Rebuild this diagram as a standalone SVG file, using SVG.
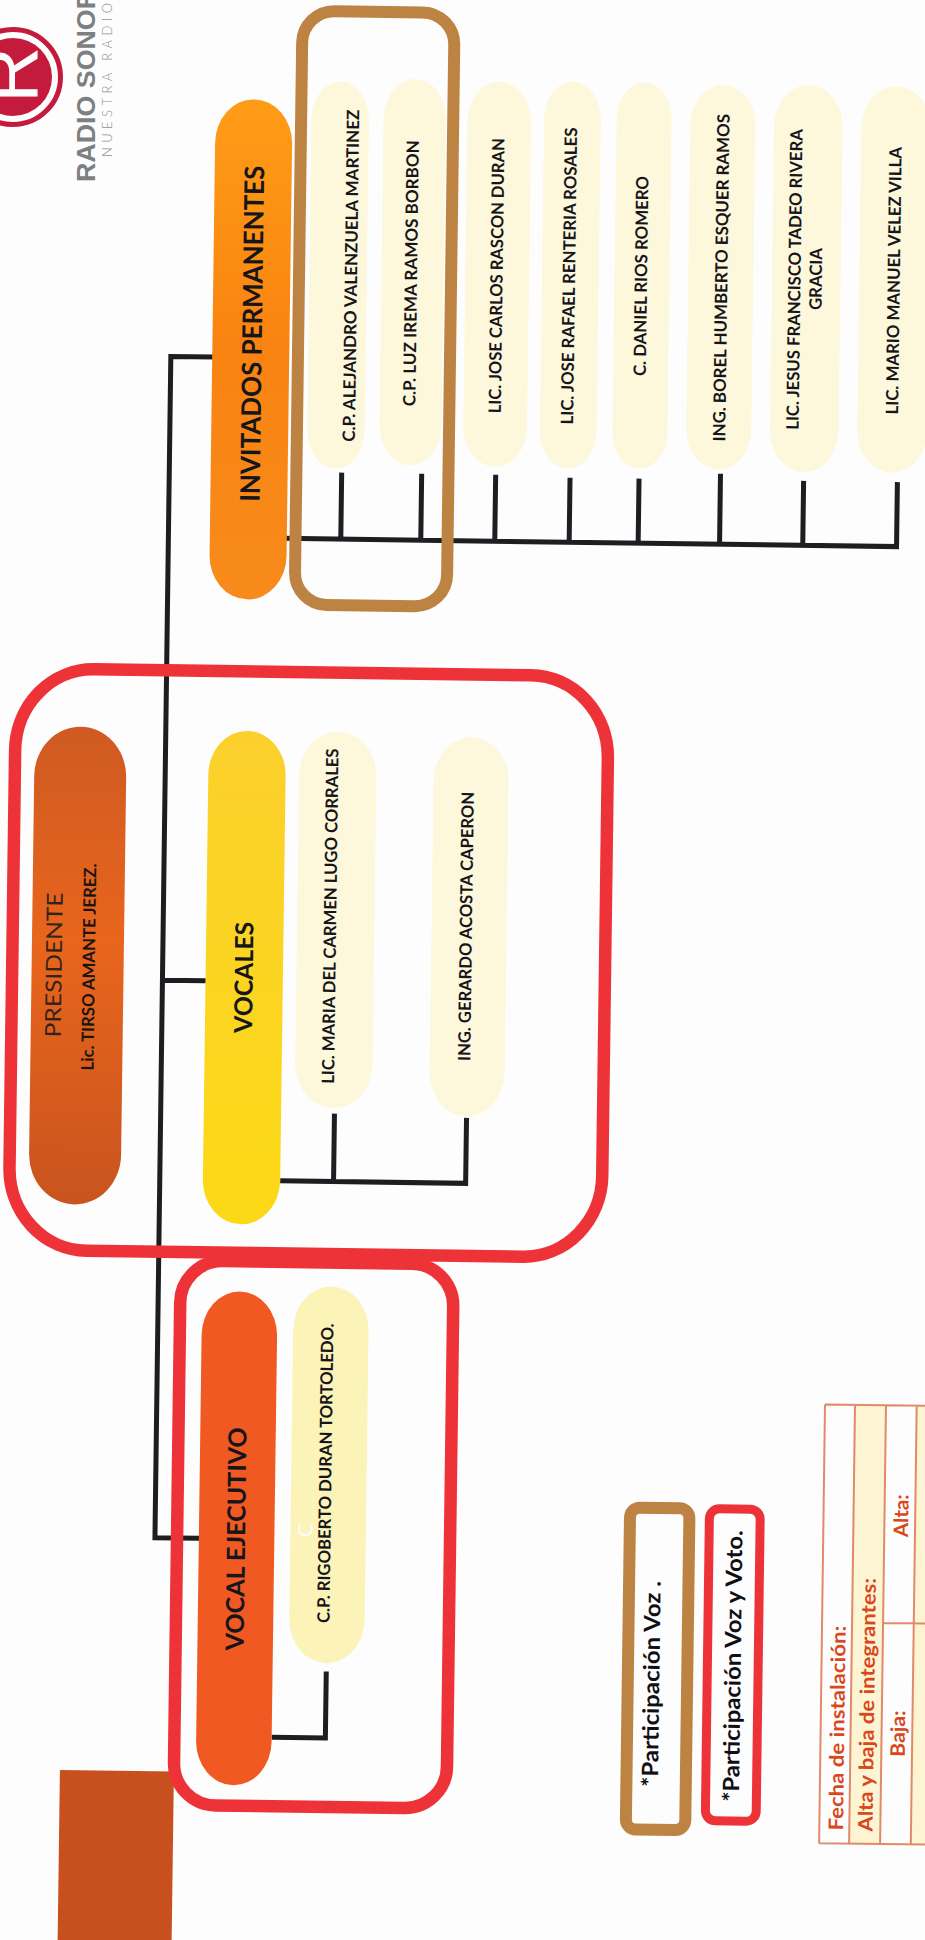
<svg xmlns="http://www.w3.org/2000/svg" width="925" height="1940" viewBox="0 0 925 1940">
<defs>
<linearGradient id="gOrange" x1="0" y1="0" x2="0" y2="1"><stop offset="0" stop-color="#ff9c16"/><stop offset=".5" stop-color="#f98311"/><stop offset="1" stop-color="#f78b1c"/></linearGradient>
<linearGradient id="gPres" x1="0" y1="0" x2="0" y2="1"><stop offset="0" stop-color="#cf5a22"/><stop offset=".45" stop-color="#e8651c"/><stop offset="1" stop-color="#c9541f"/></linearGradient>
<linearGradient id="gVoc" x1="0" y1="0" x2="0" y2="1"><stop offset="0" stop-color="#fbd02c"/><stop offset="1" stop-color="#fcd916"/></linearGradient>
</defs>
<style>
text{font-family:Lato,"Open Sans","Liberation Sans",sans-serif;text-anchor:middle}
.n{font-weight:700;font-size:17px;fill:#15151a}
.h{font-weight:700;font-size:27px;fill:#15151a}
.l{font-weight:700;font-size:22.5px;fill:#101014}
.t{font-weight:700;font-size:20px;fill:#d9481c}
.c{fill:#fdf7dc}
.w{fill:none;stroke:#1d1d22;stroke-width:5}
.rf{fill:none;stroke:#ee3338;stroke-width:12.5}
.bf{fill:none;stroke:#bd8342;stroke-width:12}
.tb{fill:none;stroke:#e08a68;stroke-width:2}
</style>
<rect width="925" height="1940" fill="#fdfdfe"/>
<g id="logo">
<circle cx="13" cy="77" r="47.5" fill="none" stroke="#c41a3c" stroke-width="5"/>
<circle cx="13" cy="77" r="39" fill="#c41a3c"/>
<text transform="translate(37,103) rotate(-90)" style="text-anchor:start;font-family:'Liberation Sans',sans-serif;font-weight:400;font-size:78px;fill:#fdfdfe">R</text>
<text transform="translate(94.5,182) rotate(-90)" textLength="192" lengthAdjust="spacingAndGlyphs" style="text-anchor:start;font-family:'Liberation Sans',sans-serif;font-weight:700;font-size:26px;fill:#7d7f80">RADIO SONOR</text>
<text transform="translate(112,157) rotate(-90)" textLength="154" lengthAdjust="spacing" style="text-anchor:start;font-family:Lato,sans-serif;font-weight:300;font-size:13px;fill:#8f9192">NUESTRA RADIO</text>
</g>
<g transform="rotate(0.77)">
<rect x="83.7" y="1769" width="114" height="180" fill="#c8501e"/>
<g id="connectors">
<path class="w" d="M219,354.2H175.6V1535.5H220M175.6,978H219"/>
<path class="w" d="M290,534.5H903.8V470M348,534.5V468M428,534.5V468M502,534.5V468M576.4,534.5V470M645.4,534.5V470M726.8,534.5V464M810,534.5V470"/>
<path class="w" d="M296,1177H481.5V1111.5M349.4,1177V1109"/>
<path class="w" d="M295,1733.5H348.7V1667"/>
</g>
<g id="invitados"><rect x="217" y="96" width="77" height="500" rx="38" ry="44" fill="url(#gOrange)"/><text class="h" transform="translate(266.3,330.3) rotate(-90)" textLength="336" lengthAdjust="spacingAndGlyphs">INVITADOS PERMANENTES</text></g>
<g id="inv1"><rect class="c" x="313" y="77" width="57.4" height="387" rx="28.7" ry="38"/><text class="n" transform="translate(360.7,271) rotate(-90)" textLength="332" lengthAdjust="spacingAndGlyphs">C.P. ALEJANDRO VALENZUELA MARTINEZ</text></g>
<g id="inv2"><rect class="c" x="385.2" y="73.3" width="62" height="386.5" rx="31" ry="40"/><text class="n" transform="translate(420.7,267.6) rotate(-90)" textLength="266" lengthAdjust="spacingAndGlyphs">C.P. LUZ IREMA RAMOS BORBON</text></g>
<g id="inv3"><rect class="c" x="469" y="75" width="63.7" height="385" rx="31.8" ry="40"/><text class="n" transform="translate(506.3,269) rotate(-90)" textLength="275" lengthAdjust="spacingAndGlyphs">LIC. JOSE CARLOS RASCON DURAN</text></g>
<g id="inv4"><rect class="c" x="545.7" y="74" width="56.6" height="387" rx="28.3" ry="38"/><text class="n" transform="translate(578.7,268.3) rotate(-90)" textLength="297" lengthAdjust="spacingAndGlyphs">LIC. JOSE RAFAEL RENTERIA ROSALES</text></g>
<g id="inv5"><rect class="c" x="618.2" y="74.2" width="54.9" height="385.7" rx="27.4" ry="36"/><text class="n" transform="translate(650.7,267.3) rotate(-90)" textLength="200" lengthAdjust="spacingAndGlyphs">C. DANIEL RIOS ROMERO</text></g>
<g id="inv6"><rect class="c" x="692" y="75.3" width="64.9" height="384.3" rx="32.4" ry="40"/><text class="n" transform="translate(731,268) rotate(-90)" textLength="327.5" lengthAdjust="spacingAndGlyphs">ING. BOREL HUMBERTO ESQUER RAMOS</text></g>
<g id="inv7"><rect class="c" x="775.7" y="74.1" width="68.5" height="387" rx="34" ry="42"/><text class="n" transform="translate(804.2,268.7) rotate(-90)" textLength="300.6" lengthAdjust="spacingAndGlyphs">LIC. JESUS FRANCISCO TADEO RIVERA</text><text class="n" transform="translate(825.5,268) rotate(-90)" textLength="62" lengthAdjust="spacingAndGlyphs">GRACIA</text></g>
<g id="inv8"><rect class="c" x="863" y="74.2" width="70" height="386.4" rx="35" ry="42"/><text class="n" transform="translate(903.5,268.7) rotate(-90)" textLength="267.4" lengthAdjust="spacingAndGlyphs">LIC. MARIO MANUEL VELEZ VILLA</text></g>
<g id="presidente"><rect x="44.6" y="725.6" width="92" height="477.7" rx="46" ry="50" fill="url(#gPres)"/><text transform="translate(74.6,964) rotate(-90)" textLength="145" lengthAdjust="spacingAndGlyphs" style="font-size:22px;fill:#33231a;font-weight:400">PRESIDENTE</text><text transform="translate(107.8,965.7) rotate(-90)" textLength="207" lengthAdjust="spacingAndGlyphs" style="font-size:17px;font-weight:700;fill:#1c1410">Lic. TIRSO AMANTE JEREZ.</text></g>
<g id="vocales"><rect x="218.7" y="727.5" width="77.3" height="493.5" rx="38.6" ry="44" fill="url(#gVoc)"/><text class="h" transform="translate(265.8,974) rotate(-90)" textLength="111" lengthAdjust="spacingAndGlyphs" style="font-size:25px">VOCALES</text></g>
<g id="voc1"><rect class="c" x="309.5" y="727.2" width="77.3" height="376.4" rx="38.6" ry="44"/><text class="n" transform="translate(348.5,911.6) rotate(-90)" textLength="335.4" lengthAdjust="spacingAndGlyphs">LIC. MARIA DEL CARMEN LUGO CORRALES</text></g>
<g id="voc2"><rect class="c" x="444" y="730.7" width="75" height="379.3" rx="37.5" ry="44"/><text class="n" transform="translate(484.4,920) rotate(-90)" textLength="269" lengthAdjust="spacingAndGlyphs">ING. GERARDO ACOSTA CAPERON</text></g>
<g id="vocal-ejecutivo"><rect x="219.5" y="1288.2" width="75.5" height="493.7" rx="37.7" ry="44" fill="#f05a22"/><text class="h" transform="translate(265.6,1535.5) rotate(-90)" textLength="223" lengthAdjust="spacingAndGlyphs" style="font-size:25px">VOCAL EJECUTIVO</text></g>
<g id="ejec1"><rect x="311" y="1281.9" width="75.4" height="376.7" rx="37.7" ry="44" fill="#fbf3b8"/><text class="n" transform="translate(351.2,1468.7) rotate(-90)" textLength="299.7" lengthAdjust="spacingAndGlyphs">C.P. RIGOBERTO DURAN TORTOLEDO.</text><text transform="translate(333.2,1526) rotate(-90)" style="font-size:20px;fill:#fdfdfe;font-weight:400">C</text></g>
<g id="frame-voz"><rect class="bf" x="302.7" y="6.7" width="152.1" height="593.8" rx="32"/></g>
<g id="frame-voto-1"><rect class="rf" x="25.2" y="668" width="592.8" height="581.5" rx="78" ry="82"/></g>
<g id="frame-voto-2"><rect class="rf" x="197.7" y="1258" width="273" height="544.4" rx="42"/></g>
<g id="leyenda-voz"><rect class="bf" x="650.3" y="1499" width="59.4" height="321.8" rx="10"/><text class="l" transform="translate(681.8,1675) rotate(-90)" textLength="206" lengthAdjust="spacingAndGlyphs">*Participación Voz .</text></g>
<g id="leyenda-voto"><rect x="729.7" y="1499" width="50.8" height="312" rx="10" fill="none" stroke="#ee3338" stroke-width="9"/><text class="l" transform="translate(763,1656) rotate(-90)" textLength="271.5" lengthAdjust="spacingAndGlyphs">*Participación Voz y Voto.</text></g>
<g id="tabla">
<rect x="873.8" y="1393.2" width="31" height="438.8" fill="#fdf4d4"/>
<rect x="935.5" y="1393.2" width="31" height="438.8" fill="#fdf4d4"/>
<path class="tb" d="M843.8,1393.2H966M843.8,1832H966M843.8,1393.2V1832M873.8,1393.2V1832M904.8,1393.2V1832M935.5,1393.2V1832M904.8,1611H966"/>
<text class="t" transform="translate(867.5,1716.7) rotate(-90)" textLength="204.7" lengthAdjust="spacingAndGlyphs">Fecha de instalación:</text>
<text class="t" transform="translate(897,1693) rotate(-90)" textLength="253.6" lengthAdjust="spacingAndGlyphs">Alta y baja de integrantes:</text>
<text class="t" transform="translate(928.2,1721.4) rotate(-90)" textLength="46.4" lengthAdjust="spacingAndGlyphs">Baja:</text>
<text class="t" transform="translate(928.6,1503.5) rotate(-90)" textLength="42.9" lengthAdjust="spacingAndGlyphs">Alta:</text>
</g>
</g>
</svg>
